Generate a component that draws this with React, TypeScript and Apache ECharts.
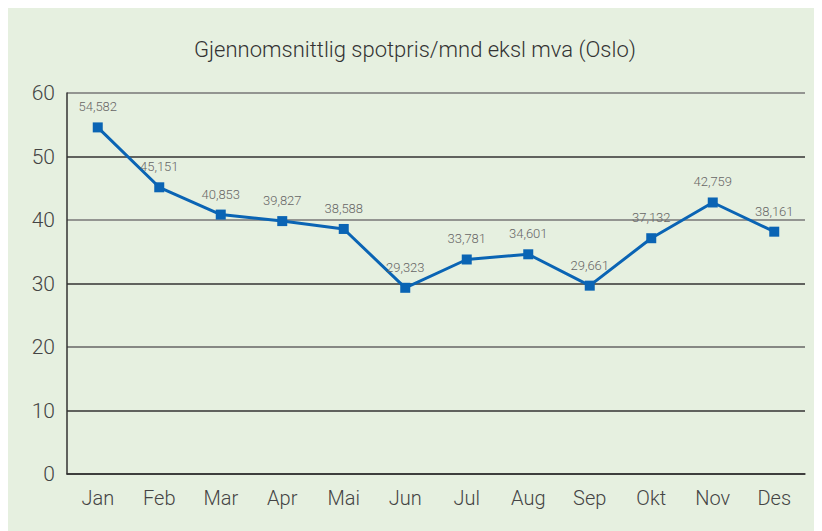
import React, { useEffect, useRef } from "react";
import * as echarts from "echarts";

const categories = ["Jan", "Feb", "Mar", "Apr", "Mai", "Jun", "Jul", "Aug", "Sep", "Okt", "Nov", "Des"];
const values = [54.582, 45.151, 40.853, 39.827, 38.588, 29.323, 33.781, 34.601, 29.661, 37.132, 42.759, 38.161];
const titleText = "Gjennomsnittlig spotpris/mnd eksl mva (Oslo)";

const FONT = "Roboto";

export default function App() {
  const ref = useRef<HTMLDivElement>(null);
  useEffect(() => {
    if (!ref.current) return;
    const chart = echarts.init(ref.current, undefined, { renderer: "svg" });
    chart.setOption({
      animation: false,
      backgroundColor: "#e6f0e0",
      title: {
        text: titleText,
        left: "center",
        top: 25,
        textStyle: { fontFamily: FONT, fontWeight: 300, fontSize: 22, color: "#333" },
      },
      grid: { left: 59, right: 17, top: 85, bottom: 57, containLabel: false },
      xAxis: {
        type: "category",
        data: categories,
        boundaryGap: true,
        axisLine: { lineStyle: { color: "#333", width: 1.5 } },
        axisTick: { inside: true, length: 10, alignWithLabel: false, lineStyle: { color: "#333" } },
        axisLabel: { fontFamily: FONT, fontWeight: 300, fontSize: 20, color: "#444", margin: 14 },
      },
      yAxis: {
        type: "value",
        min: 0,
        max: 60,
        interval: 10,
        axisLine: { show: true, lineStyle: { color: "#333", width: 1.5 } },
        axisTick: { show: false },
        axisLabel: { fontFamily: FONT, fontWeight: 300, fontSize: 21, color: "#444", margin: 12 },
        splitLine: {
          lineStyle: {
            color: ["#333", "#333", "#666", "#333", "#777", "#333", "#777"],
            width: 1.5,
          },
        },
      },
      series: [
        {
          type: "line",
          data: values,
          symbol: "rect",
          symbolSize: 10,
          lineStyle: { color: "#0a64b4", width: 3 },
          itemStyle: { color: "#0a64b4" },
          label: {
            show: true,
            position: "top",
            distance: 9,
            fontFamily: FONT,
            fontWeight: 300,
            fontSize: 13,
            color: "#666",
            formatter: (p: any) => p.value.toFixed(3).replace(".", ","),
          },
        },
      ],
    });
    return () => chart.dispose();
  }, []);
  return <div ref={ref} style={{ width: 814, height: 523 }} />;
}
